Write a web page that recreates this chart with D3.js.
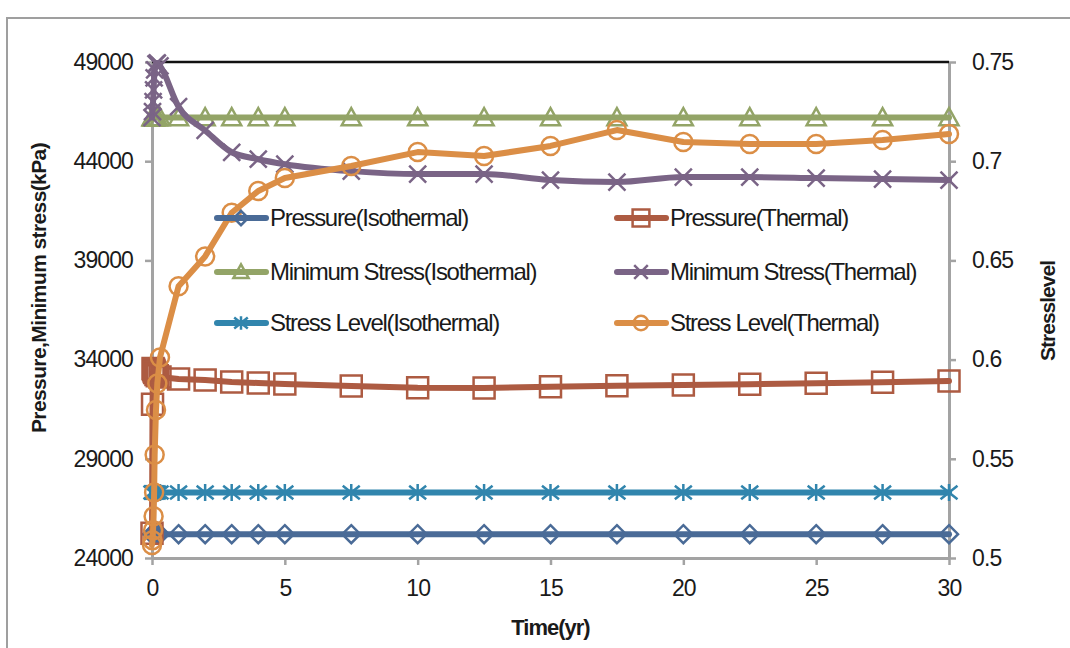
<!DOCTYPE html>
<html><head><meta charset="utf-8">
<script src="https://cdn.jsdelivr.net/npm/d3@7"></script>
<style>
body{margin:0;background:#fff;}
svg{display:block;font-family:"Liberation Sans",Arial,sans-serif;}
</style></head><body>
<svg id="chart" width="1070" height="648"></svg>
<script>
// ---- data ----
const time = [0,0.02,0.04,0.06,0.08,0.1,0.15,0.2,0.3,1,2,3,4,5,7.5,10,12.5,15,17.5,20,22.5,25,27.5,30];
const pressureIso = [25200,25200,25200,25200,25200,25200,25200,25200,25200,25200,25200,25200,25200,25200,25200,25200,25200,25200,25200,25200,25200,25200,25200,25200];
const pressureTh = [25250,31750,33550,33500,33420,33350,33250,33180,33120,33020,32970,32870,32820,32770,32670,32580,32570,32630,32680,32720,32755,32805,32855,32920];
const minStressIso = [46200,46200,46200,46200,46200,46200,46200,46200,46200,46200,46200,46200,46200,46200,46200,46200,46200,46200,46200,46200,46200,46200,46200,46200];
const minStressTh = [46200,46500,47000,47600,48200,48600,48900,48950,48800,46750,45550,44450,44100,43850,43500,43350,43350,43050,42950,43200,43200,43150,43100,43050];
const stressLevelIso = [0.533,0.533,0.533,0.533,0.533,0.533,0.533,0.533,0.533,0.533,0.533,0.533,0.533,0.533,0.533,0.533,0.533,0.533,0.533,0.533,0.533,0.533,0.533,0.533];
const stressLevelTh = [0.5066,0.509,0.514,0.521,0.533,0.552,0.5746,0.588,0.601,0.637,0.652,0.674,0.685,0.6915,0.6976,0.7046,0.7026,0.7077,0.7157,0.7097,0.7087,0.7087,0.7107,0.7137];

const xTicks = [0,5,10,15,20,25,30];
const leftTicks = [24000,29000,34000,39000,44000,49000];
const rightTicks = [0.5,0.55,0.6,0.65,0.7,0.75];
const seriesNames = ["Pressure(Isothermal)","Pressure(Thermal)","Minimum Stress(Isothermal)","Minimum Stress(Thermal)","Stress Level(Isothermal)","Stress Level(Thermal)"];
const xTitle = "Time(yr)";
const leftTitle = "Pressure,Minimum stress(kPa)";
const rightTitle = "Stresslevel";

// ---- layout ----
const svg = d3.select("#chart");
const L = 152, R = 949, T = 62, B = 558;
const x = d3.scaleLinear().domain([0,30]).range([L,R]);
const yL = d3.scaleLinear().domain([24000,49000]).range([B,T]);
const yR = d3.scaleLinear().domain([0.5,0.75]).range([B,T]);
const axisColor = "#a3a3a3";

// outer frame
svg.append("rect").attr("x",7).attr("y",18).attr("width",1100).attr("height",700)
  .attr("fill","none").attr("stroke","#9f9f9f").attr("stroke-width",2);

const series = [
  {name:seriesNames[0], v:pressureIso, y:yL, color:"#4a6b97", marker:"diamond", curve:d3.curveLinear},
  {name:seriesNames[1], v:pressureTh, y:yL, color:"#ad5b42", marker:"square", curve:d3.curveLinear},
  {name:seriesNames[2], v:minStressIso, y:yL, color:"#93a467", marker:"triangle", curve:d3.curveLinear},
  {name:seriesNames[3], v:minStressTh, y:yL, color:"#7a6486", marker:"x", curve:d3.curveMonotoneX},
  {name:seriesNames[4], v:stressLevelIso, y:yR, color:"#3185ad", marker:"star", curve:d3.curveLinear},
  {name:seriesNames[5], v:stressLevelTh, y:yR, color:"#db8e46", marker:"circle", curve:d3.curveLinear}
];

function markerPath(type, k){
  const p = d3.path();
  if(type==="diamond"){const s=9*k; p.moveTo(0,-s);p.lineTo(s,0);p.lineTo(0,s);p.lineTo(-s,0);p.closePath();}
  else if(type==="square"){const s=10.5*k; p.rect(-s,-s,2*s,2*s);}
  else if(type==="triangle"){const s=9.5*k; p.moveTo(0,-s);p.lineTo(s,s*0.8);p.lineTo(-s,s*0.8);p.closePath();}
  else if(type==="x"){const s=8.5*k; p.moveTo(-s,-s);p.lineTo(s,s);p.moveTo(-s,s);p.lineTo(s,-s);}
  else if(type==="star"){const s=8.5*k; p.moveTo(-s,-s*0.8);p.lineTo(s,s*0.8);p.moveTo(-s,s*0.8);p.lineTo(s,-s*0.8);p.moveTo(0,-s);p.lineTo(0,s);}
  else if(type==="circle"){const s=9*k; p.moveTo(s,0);p.arc(0,0,s,0,2*Math.PI);}
  return p.toString();
}

// axes
const gL = svg.append("g").attr("transform",`translate(${L},0)`)
  .call(d3.axisLeft(yL).tickValues(leftTicks).tickFormat(d3.format("d")).tickSize(7).tickSizeOuter(0).tickPadding(12));
const gR = svg.append("g").attr("transform",`translate(${R},0)`)
  .call(d3.axisRight(yR).tickValues(rightTicks).tickFormat(d=>String(+d.toFixed(2))).tickSize(7).tickSizeOuter(0).tickPadding(16));
const gB = svg.append("g").attr("transform",`translate(0,${B})`)
  .call(d3.axisBottom(x).tickValues(xTicks).tickFormat(d3.format("d")).tickSize(7).tickSizeOuter(0).tickPadding(15));
[gL,gR,gB].forEach(g=>{
  g.select(".domain").attr("stroke",axisColor).attr("stroke-width",3);
  g.selectAll(".tick line").attr("stroke",axisColor).attr("stroke-width",2.5);
  g.selectAll(".tick text").attr("fill","#1a1a1a").style("font-size","23px").style("letter-spacing","-0.9px")
   .style("font-family",'"Liberation Sans",Arial,sans-serif');
});
// top border of plot
svg.append("line").attr("x1",L).attr("x2",R).attr("y1",T).attr("y2",T).attr("stroke","#111").attr("stroke-width",2.5);

// series
series.forEach(s=>{
  const line = d3.line().x((d,i)=>x(time[i])).y(d=>s.y(d)).curve(s.curve);
  const g = svg.append("g");
  g.append("path").attr("d",line(s.v)).attr("fill","none").attr("stroke",s.color)
    .attr("stroke-width",6).attr("stroke-linecap","round").attr("stroke-linejoin","round");
  g.selectAll("path.m").data(s.v).join("path").attr("class","m")
    .attr("transform",(d,i)=>`translate(${x(time[i])},${s.y(d)})`)
    .attr("d",markerPath(s.marker,1)).attr("fill","none").attr("stroke",s.color).attr("stroke-width",2.5);
});

// legend
const legPos = [[215,218],[615,218],[215,272],[615,272],[215,323],[615,323]];
series.forEach((s,i)=>{
  const [lx,ly] = legPos[i];
  const g = svg.append("g").attr("transform",`translate(${lx},${ly})`);
  g.append("line").attr("x1",2).attr("x2",51).attr("y1",0).attr("y2",0).attr("stroke",s.color)
    .attr("stroke-width",6).attr("stroke-linecap","round");
  g.append("path").attr("transform","translate(26,0)").attr("d",markerPath(s.marker,0.8))
    .attr("fill","none").attr("stroke",s.color).attr("stroke-width",2.5);
  g.append("text").attr("x",55).attr("y",0).attr("dy","0.35em").text(s.name)
    .attr("fill","#1a1a1a").style("font-size","24px").style("letter-spacing","-1.3px");
});

// titles
svg.append("text").attr("x",(L+R)/2).attr("y",635).attr("text-anchor","middle").text(xTitle)
  .style("font-size","22px").style("font-weight","bold").style("letter-spacing","-1px").attr("fill","#1a1a1a");
svg.append("text").attr("transform","translate(46,288) rotate(-90)").attr("text-anchor","middle").text(leftTitle)
  .style("font-size","21px").style("font-weight","bold").style("letter-spacing","-0.6px").attr("fill","#1a1a1a");
svg.append("text").attr("transform","translate(1055,311) rotate(-90)").attr("text-anchor","middle").text(rightTitle)
  .style("font-size","21px").style("font-weight","bold").style("letter-spacing","-1px").attr("fill","#1a1a1a");
</script>
</body></html>
